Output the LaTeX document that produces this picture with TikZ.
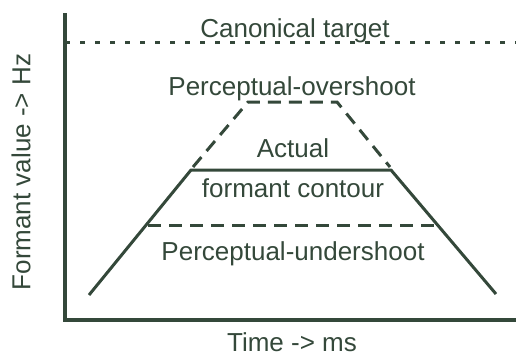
\documentclass[tikz,border=0pt]{standalone}
\usepackage{fontspec}
\setmainfont{Liberation Sans}
\definecolor{ink}{RGB}{52,72,58}
\begin{document}
\begin{tikzpicture}[x=1pt,y=-1pt,
  lbl/.style={text=ink,font=\fontsize{26}{30}\selectfont,inner sep=0pt,anchor=base},
  axis/.style={draw=ink,line width=3.2pt},
  contour/.style={draw=ink,line width=3pt},
  dashline/.style={draw=ink,line width=3pt,dash pattern=on 13pt off 8pt},
  dotline/.style={draw=ink,line width=3pt,dash pattern=on 5pt off 10pt}]
\useasboundingbox (0,0) rectangle (516,357);
% axes
\coordinate (ytop) at (65,13);
\coordinate (origin) at (65,320);
\coordinate (xend) at (516,320);
\draw[axis] (ytop) -- (origin) -- (xend);
% canonical target
\coordinate (ct0) at (65,42);
\coordinate (ct1) at (516,42);
\draw[dotline] (ct0) -- (ct1);
% actual contour
\coordinate (a0) at (89,295);
\coordinate (a1) at (191,170);
\coordinate (a2) at (391,170);
\coordinate (a3) at (496,294);
\draw[contour,line join=round] (a0) -- (a1) -- (a2) -- (a3);
% undershoot
\coordinate (u0) at (148,225);
\coordinate (u1) at (438,225);
\draw[dashline] (u0) -- (u1);
% overshoot
\coordinate (o0) at (193,167);
\coordinate (o1) at (248,102);
\coordinate (o2) at (337,102);
\coordinate (o3) at (390,167);
\draw[dashline] (o0) -- (o1) -- (o2) -- (o3);
% labels
\node[lbl] (canon) at (295,37) {Canonical target};
\node[lbl] (over) at (292,95) {Perceptual-overshoot};
\node[lbl] (actual) at (293,157) {Actual};
\node[lbl] (fc) at (293,197) {formant contour};
\node[lbl] (under) at (293,260) {Perceptual-undershoot};
\node[lbl] (time) at (292,351) {Time -> ms};
\node[lbl,anchor=center,rotate=90] (freq) at (21,172) {Formant value -> Hz};
\end{tikzpicture}
\end{document}
